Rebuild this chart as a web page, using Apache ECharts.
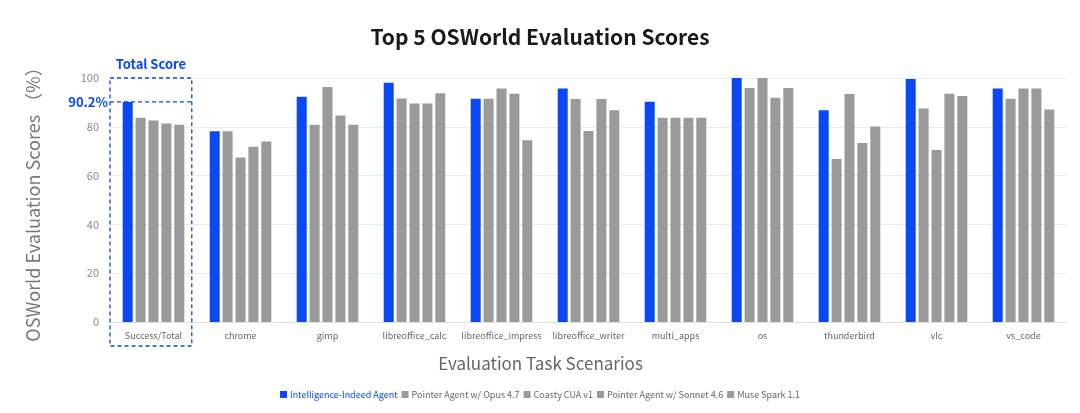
<!DOCTYPE html>
<html><head><meta charset="utf-8">
<script src="https://cdn.jsdelivr.net/npm/echarts@6/dist/echarts.min.js"></script>
<style>html,body{margin:0;padding:0;background:#fff}#c{width:1080px;height:413px}</style>
</head><body><div id="c"></div>
<script>
const categories = ['Success/Total','chrome','gimp','libreoffice_calc','libreoffice_impress','libreoffice_writer','multi_apps','os','thunderbird','vlc','vs_code'];
const seriesNames = ['Intelligence-Indeed Agent','Pointer Agent w/ Opus 4.7','Coasty CUA v1','Pointer Agent w/ Sonnet 4.6','Muse Spark 1.1'];
const intelligenceIndeed = [90.2, 78.2, 92.3, 98.1, 91.5, 95.7, 90.3, 100, 86.8, 99.6, 95.7];
const pointerOpus        = [83.7, 78.2, 80.8, 91.6, 91.5, 91.4, 83.7, 95.9, 66.8, 87.5, 91.5];
const coastyCua          = [82.6, 67.4, 96.3, 89.6, 95.7, 78.3, 83.7, 100, 93.4, 70.5, 95.7];
const pointerSonnet      = [81.4, 71.8, 84.6, 89.6, 93.5, 91.4, 83.7, 91.9, 73.4, 93.5, 95.7];
const museSpark          = [80.8, 74.0, 80.8, 93.7, 74.5, 86.8, 83.7, 95.9, 80.1, 92.6, 87.1];
const yTicks = [0, 20, 40, 60, 80, 100];
const totalScoreLabel = '90.2%';

const BLUE = '#0a47f5', GREY = '#9a9a9a';
const FONT = 'Noto Sans CJK SC';
const allData = [intelligenceIndeed, pointerOpus, coastyCua, pointerSonnet, museSpark];
const chart = echarts.init(document.getElementById('c'));
const option = {
  animation: false,
  textStyle: {fontFamily: FONT},
  title: {text: 'Top 5 OSWorld Evaluation Scores', left: 'center', top: 22,
    textStyle: {fontSize: 21, fontWeight: 'bold', color: '#1a1a1a', fontFamily: FONT}},
  legend: {bottom: 9, left: 'center', itemWidth: 7, itemHeight: 7, itemGap: 4, icon: 'rect',
    textStyle: {fontSize: 9, color: '#666', fontFamily: FONT, padding: [0,0,0,-2]},
    data: seriesNames.map((n, i) => i === 0 ? {name: n, textStyle: {color: BLUE}} : {name: n})},
  grid: {left: 110, right: 13, top: 78, bottom: 91},
  xAxis: {type: 'category', data: categories,
    name: 'Evaluation Task Scenarios', nameLocation: 'middle', nameGap: 33,
    nameTextStyle: {fontSize: 17, color: '#666', fontFamily: FONT, padding: [0, 96, 0, 0]},
    axisLine: {lineStyle: {color: '#e0e0e0'}}, axisTick: {show: false},
    axisLabel: {fontSize: 9, color: '#666', margin: 9, interval: 0}},
  yAxis: {type: 'value', min: 0, max: 100, interval: 20,
    name: 'OSWorld Evaluation Scores （%）', nameLocation: 'middle', nameGap: 68,
    nameTextStyle: {fontSize: 18, color: '#777', fontFamily: FONT},
    axisLabel: {fontSize: 11, color: '#888', margin: 11,
      formatter: v => yTicks.includes(v) ? String(v) : ''},
    splitLine: {lineStyle: {color: '#ececec'}}},
  series: seriesNames.map((n, i) => ({
    name: n, type: 'bar', data: allData[i], barWidth: 10, barGap: '29%',
    itemStyle: {color: i === 0 ? BLUE : GREY}
  }))
};
chart.setOption(option);

// annotation for the total score category, positioned from the axes
const cx = chart.convertToPixel({xAxisIndex: 0}, categories[0]);
const cx2 = chart.convertToPixel({xAxisIndex: 0}, categories[1]);
const band = cx2 - cx;
const yTop = chart.convertToPixel({yAxisIndex: 0}, 100);
const yZero = chart.convertToPixel({yAxisIndex: 0}, 0);
const yTotal = chart.convertToPixel({yAxisIndex: 0}, intelligenceIndeed[0]);
const boxL = cx - band / 2, boxR = cx + band * 0.44;
const boxB = yZero + 24;
chart.setOption({graphic: [
  {type: 'rect', shape: {x: boxL, y: yTop, width: boxR - boxL, height: boxB - yTop},
    style: {fill: 'none', stroke: BLUE, lineWidth: 1.3, lineDash: [4, 3]}, z: 10},
  {type: 'line', shape: {x1: boxL, y1: yTotal, x2: boxR, y2: yTotal},
    style: {stroke: BLUE, lineWidth: 1.3, lineDash: [4, 3]}, z: 10},
  {type: 'text', x: (boxL + boxR) / 2, y: yTop - 7,
    style: {text: 'Total Score', fill: BLUE, font: 'bold 13px "Noto Sans CJK SC"', align: 'center', verticalAlign: 'bottom'}, z: 10},
  {type: 'text', x: boxL - 2, y: yTotal,
    style: {text: totalScoreLabel, fill: BLUE, font: 'bold 13px "Noto Sans CJK SC"', align: 'right', verticalAlign: 'middle'}, z: 10}
]});
</script></body></html>
